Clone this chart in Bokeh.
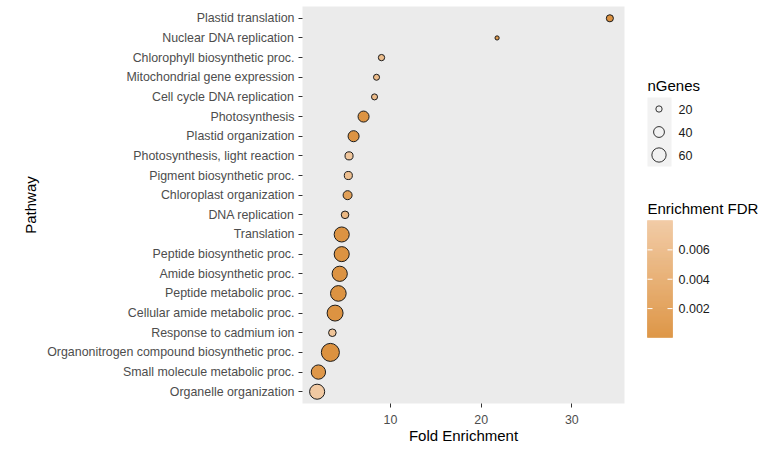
import numpy as np
from bokeh.plotting import figure
from bokeh.layouts import row
from bokeh.models import ColumnDataSource, Range1d, FixedTicker, LinearColorMapper
from bokeh.core.properties import value
from bokeh.embed import file_html
from bokeh.resources import INLINE

# ---------------- data ----------------
pathways = ["Plastid translation", "Nuclear DNA replication", "Chlorophyll biosynthetic proc.",
            "Mitochondrial gene expression", "Cell cycle DNA replication", "Photosynthesis",
            "Plastid organization", "Photosynthesis, light reaction", "Pigment biosynthetic proc.",
            "Chloroplast organization", "DNA replication", "Translation",
            "Peptide biosynthetic proc.", "Amide biosynthetic proc.", "Peptide metabolic proc.",
            "Cellular amide metabolic proc.", "Response to cadmium ion",
            "Organonitrogen compound biosynthetic proc.", "Small molecule metabolic proc.",
            "Organelle organization"]
fold_enrichment = [34.2, 21.76, 9.01, 8.46, 8.24, 7.03, 5.93, 5.43, 5.35, 5.27, 4.99,
                   4.62, 4.62, 4.40, 4.25, 3.89, 3.59, 3.37, 2.05, 1.91]
n_genes = [23, 13, 20, 19, 19, 41, 41, 27, 27, 31, 25, 65, 65, 66, 69, 71, 25, 86, 60, 65]
fdr = [0.0001, 0.0012, 0.0062, 0.0060, 0.0060, 0.0003, 0.0003, 0.0075, 0.0065, 0.0020, 0.0055,
       0.0002, 0.0002, 0.0002, 0.0002, 0.0002, 0.0072, 0.00003, 0.0008, 0.0080]
size_legend_values = [20, 40, 60]
x_ticks = [10, 20, 30]
fdr_ticks = [0.002, 0.004, 0.006]

FONT = "Liberation Sans"
LOW_COL = (0xDC, 0x92, 0x40)
HIGH_COL = (0xF1, 0xC9, 0xA2)


def msize(n):
    return 2.44 * np.sqrt(np.asarray(n, dtype=float)) - 4.6


palette = []
for t in np.linspace(0, 1, 256):
    c = [int(round(a + (b - a) * t)) for a, b in zip(LOW_COL, HIGH_COL)]
    palette.append("#%02X%02X%02X" % tuple(c))

fdr_lo, fdr_hi = min(fdr), max(fdr)
mapper = LinearColorMapper(palette=palette, low=fdr_lo, high=fdr_hi)

npath = len(pathways)
ypos = [npath - 1 - i for i in range(npath)]
src = ColumnDataSource(dict(fe=fold_enrichment, y=ypos, sz=list(msize(n_genes)), fdr=fdr,
                            name=pathways))

span = max(fold_enrichment) - min(fold_enrichment)
xr = Range1d(min(fold_enrichment) - 0.05 * span, max(fold_enrichment) + 0.05 * span)

H = 448
FRAME_TOP, FRAME_BOT = 6, 403
p = figure(width=630, height=H, x_range=xr, y_range=Range1d(-0.6, npath - 1 + 0.6),
           output_backend="svg", toolbar_location=None,
           min_border_left=302, min_border_right=6, min_border_top=FRAME_TOP,
           min_border_bottom=H - FRAME_BOT)
p.background_fill_color = "#EBEBEB"
p.border_fill_color = "white"
p.outline_line_color = None
p.xgrid.visible = False
p.ygrid.visible = False

for ax in (p.xaxis[0], p.yaxis[0]):
    ax.axis_line_color = None
    ax.major_tick_line_color = "#333333"
    ax.major_tick_in = 0
    ax.major_tick_out = 4
    ax.minor_tick_line_color = None
    ax.major_label_text_font = FONT
    ax.major_label_text_font_size = "12.4px"
    ax.major_label_text_color = "#4D4D4D"
    ax.axis_label_text_font = FONT
    ax.axis_label_text_font_size = "15px"
    ax.axis_label_text_font_style = "normal"
    ax.axis_label_text_color = "black"

p.xaxis.major_label_standoff = 7
p.xaxis.axis_label_standoff = 0
p.yaxis.major_label_standoff = 4
p.yaxis.axis_label_standoff = 5

p.xaxis.ticker = FixedTicker(ticks=x_ticks)
p.xaxis.axis_label = "Fold Enrichment"
p.yaxis.ticker = FixedTicker(ticks=ypos)
p.yaxis.major_label_overrides = {y: nm for y, nm in zip(ypos, pathways)}
p.yaxis.axis_label = "Pathway"

p.scatter(x="fe", y="y", size="sz", source=src,
          fill_color={"field": "fdr", "transform": mapper},
          line_color="#1A1A1A", line_width=1)

# ---------------- legend panel ----------------
# the row aligns this panel's frame with the main frame (y 6..403), so the
# legend's y range is set in page pixels over that same span
LW = 140
lg = figure(width=LW, height=H, x_range=Range1d(0, LW), y_range=Range1d(FRAME_BOT, FRAME_TOP),
            output_backend="svg", toolbar_location=None,
            x_axis_location=None, y_axis_location=None,
            min_border_left=0, min_border_right=0, min_border_top=FRAME_TOP,
            min_border_bottom=H - FRAME_BOT)
lg.outline_line_color = None
lg.background_fill_color = "white"
lg.border_fill_color = "white"
lg.grid.visible = False

# size legend
lg.text(x=[17], y=[85], text=["nGenes"], text_font=value(FONT), text_font_size="15px",
        text_baseline="middle", text_align="left", text_color="black")
lg.quad(left=[17], right=[41], top=[97], bottom=[166], fill_color="#F2F2F2", line_color=None)
key_y = [108.5, 131.5, 154.5]
lg.scatter(x=[28.5] * 3, y=key_y, size=list(msize(size_legend_values)),
           fill_color=None, line_color="#333333", line_width=1)
lg.text(x=[48] * 3, y=key_y, text=[str(v) for v in size_legend_values], text_font=value(FONT),
        text_font_size="12.5px", text_baseline="middle", text_align="left", text_color="#1A1A1A")

# colour bar (own value axis so ticks sit at their values)
bar_top, bar_bot = 220, 337
k = (bar_bot - bar_top) / (fdr_hi - fdr_lo)
lg.extra_y_ranges = {"fdr": Range1d(fdr_lo - (FRAME_BOT - bar_bot) / k,
                                    fdr_hi + (bar_top - FRAME_TOP) / k)}
edges = np.linspace(fdr_lo, fdr_hi, 118)
mids = (edges[:-1] + edges[1:]) / 2
gsrc = ColumnDataSource(dict(b=edges[:-1], t=edges[1:], m=mids))
lg.quad(left=17, right=42, bottom="b", top="t", source=gsrc, y_range_name="fdr",
        fill_color={"field": "m", "transform": mapper},
        line_color={"field": "m", "transform": mapper}, line_width=0.6)
lg.segment(x0=[17] * 3, x1=[22] * 3, y0=fdr_ticks, y1=fdr_ticks, y_range_name="fdr",
           line_color="white", line_width=1)
lg.segment(x0=[37] * 3, x1=[42] * 3, y0=fdr_ticks, y1=fdr_ticks, y_range_name="fdr",
           line_color="white", line_width=1)
lg.text(x=[48] * 3, y=fdr_ticks, text=["%.3f" % v for v in fdr_ticks], y_range_name="fdr",
        text_font=value(FONT), text_font_size="12.5px", text_baseline="middle",
        text_align="left", text_color="#1A1A1A")
lg.text(x=[17], y=[208], text=["Enrichment FDR"], text_font=value(FONT), text_font_size="15px",
        text_baseline="middle", text_align="left", text_color="black")

layout = row(p, lg)
open("out.html", "w").write(file_html(layout, INLINE))
